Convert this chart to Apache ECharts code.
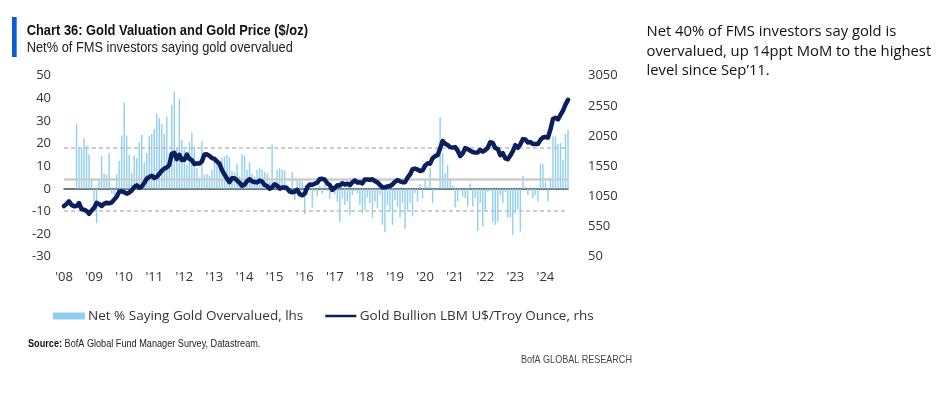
<!DOCTYPE html>
<html><head><meta charset="utf-8">
<script src="https://cdn.jsdelivr.net/npm/echarts@6/dist/echarts.min.js"></script>
<style>html,body{margin:0;padding:0;background:#fff}#c{width:940px;height:393px}</style>
</head><body><div id="c"></div>
<script>
// ---- DATA ----
const startYear = 2008, endYear = 2024, endMonth = 10;
const xTickLabels = ["'08","'09","'10","'11","'12","'13","'14","'15","'16","'17","'18","'19","'20","'21","'22","'23","'24"];
const refLines = { mean: 4.4, upper: 18.3, lower: -9.5 };

// Gold Bullion LBM U$/Troy Ounce, monthly (Jan 2008 - Oct 2024), rhs
const goldPrice = [
  889, 922, 968, 909, 888, 890, 939, 839, 829, 807, 760, 816,
  858, 943, 924, 890, 928, 946, 934, 949, 996, 1044, 1127, 1134,
  1118, 1095, 1113, 1148, 1205, 1233, 1193, 1215, 1271, 1343, 1370, 1391,
  1356, 1372, 1424, 1474, 1510, 1529, 1572, 1756, 1772, 1665, 1739, 1652,
  1656, 1742, 1674, 1650, 1585, 1596, 1594, 1630, 1745, 1747, 1721, 1685,
  1671, 1627, 1593, 1487, 1414, 1343, 1286, 1352, 1349, 1316, 1275, 1225,
  1244, 1300, 1336, 1299, 1287, 1279, 1311, 1296, 1239, 1222, 1176, 1201,
  1251, 1227, 1179, 1198, 1199, 1182, 1131, 1117, 1125, 1159, 1086, 1068,
  1097, 1200, 1246, 1242, 1260, 1276, 1337, 1341, 1326, 1266, 1238, 1157,
  1192, 1234, 1231, 1266, 1246, 1260, 1236, 1283, 1314, 1280, 1283, 1265,
  1331, 1331, 1325, 1335, 1303, 1282, 1238, 1202, 1199, 1215, 1221, 1250,
  1291, 1320, 1300, 1285, 1284, 1359, 1413, 1500, 1510, 1495, 1471, 1480,
  1560, 1597, 1592, 1683, 1716, 1732, 1846, 1968, 1921, 1900, 1866, 1858,
  1867, 1808, 1718, 1760, 1850, 1834, 1807, 1785, 1775, 1777, 1821, 1790,
  1817, 1856, 1948, 1937, 1849, 1837, 1733, 1765, 1681, 1665, 1726, 1798,
  1898, 1855, 1913, 1999, 1992, 1943, 1951, 1918, 1916, 1916, 1985, 2026,
  2034, 2024, 2160, 2331, 2351, 2326, 2399, 2470, 2571, 2650
];

// Net % saying gold overvalued, lhs (monthly, same months)
const netOvervalued = [
  null, null, null, null, null,
  28.8, 18.3, 17.5, 22.4, 19, 15.2, 4.3, -5.6, -15.2, 4.3, 14.6, 6.9, 6.2, 15.8, -2, -2.7, 6.5, 12.4,
  23.5, 38.2, 23.5, 15, 6.9, 14.6, 13.6, 20.6, 23.9, 11.8, 15.8, 23.5, 24.2, 26.4, 33.2, 31.3, 28.6,
  24.2, 32, 15.8, 37.2, 43, 18, 39.7, 21.7, 17.3, 10.6,
  20.6, 24.9, 18.7, 9.1, 5, 21, 6.2, 6.5, 5.9, 8.4, 12.1, 11.8, 9.1, 13.6, 14.3, 15, 13.9, 8, 7.4,
  11.2, 5.5, 15.3, 14.6, 8.4, 11.8, 6.5, 5.5, 8.3, 9.4, 8.7, 7.4, 6.9, 3.2, 19.5, 3, 8.4, 9.1, 8.4,
  8, 1.8, -1.2, 7.4, -4.9, 4.3, 4, 3.2, -11.2, -2.7, 1.8, -8.3, -1.2,
  -3.4, 1.5, -2.2, 2, -1, -4.5, 0.8, -2.5,
  -5.6, -14.7, -4.1, -7.1, -5.6, -11.5, -2.7, -0.9, -1.9, -7.1, -10.8, -9.3, -3.8, -6.3, -12.7,
  -5.6, -8.6, -2.7, -15.9, -19.2, -7.1, -10, -15.9, -4.9, -7.8, -12.7, -6.3, -17.7, -9.3, -6.3,
  -12.2, -1.9, -5.6, 2.1, -4.1, 4.7, 1, 9.1, -6.3, -0.9, -0.4, 31.6,
  15.8, 6.9, 10.6, 4.4, 1.5, -8.3, -5.6, -0.9, -3.4, -4.1, -7.8, 2.4, -7.8, -4.1, -18.6, -6.3,
  -16.7, -10, -1.5, -0.9, -14.5, -15.9, -14.5, -2.7, -6.3, -1.5, -12.7, -12.7, -20.4, -10.8, -9.3,
  -18.9, 5.8, 1, -2.7, -0.9, -4.1, -2.7, -5.6, 11.1, 11.1, 3.2, -5.6, 5, 23.2, 23.2, 19.8, 20.2,
  12.8, 24.3, 26.1
];

const months = [];
for (let y = startYear; y <= endYear; y++) {
  for (let m = 1; m <= 12; m++) {
    if (y === endYear && m > endMonth) break;
    months.push(y + '-' + (m < 10 ? '0' + m : m));
  }
}

// ---- CHART ----
const NAVY = '#0B1F5E', LIGHT = '#8FCFF0';
const NUM_FONT = '"Open Sans", "Noto Sans", sans-serif';
const SANS = '"Liberation Sans", Arial, sans-serif';
const LINE_ICON = 'path://M0,0 h0.01 v0.01 h-0.01 Z M0,2.9 h40 v3.2 h-40 Z M0,9 h0.01 v0.01 h-0.01 Z';
const chart = echarts.init(document.getElementById('c'), null, { renderer: 'canvas' });
chart.setOption({
  animation: false,
  backgroundColor: '#fff',
  legend: {
    left: 53, top: 308, padding: 0, itemGap: 22, itemWidth: 32, itemHeight: 7,
    textStyle: { fontFamily: NUM_FONT, fontSize: 13.5, color: '#333', lineHeight: 16, padding: [0, 0, 0, -2] },
    data: [
      { name: 'Net % Saying Gold Overvalued, lhs', icon: 'rect', itemStyle: { color: LIGHT } },
      { name: 'Gold Bullion LBM U$/Troy Ounce, rhs', icon: LINE_ICON, itemStyle: { color: NAVY } }
    ]
  },
  grid: { left: 64, right: 372, top: 75.7, bottom: 136.3 },
  xAxis: [
    { type: 'category', data: months, boundaryGap: false,
      axisLine: { onZero: true, lineStyle: { color: '#4a4a4a', width: 1.5 } },
      axisTick: { show: false }, axisLabel: { show: false }, splitLine: { show: false } },
    { type: 'category', data: months, boundaryGap: false, position: 'bottom',
      axisLine: { show: false, onZero: false }, axisTick: { show: false }, splitLine: { show: false },
      axisLabel: { interval: (i) => i % 12 === 0, margin: 14,
        formatter: (v, i) => xTickLabels[Math.round(i / 12)] || '',
        fontFamily: NUM_FONT, fontSize: 13, color: '#333' } }
  ],
  yAxis: [
    { type: 'value', min: -30, max: 50, interval: 10, splitLine: { show: false },
      axisLine: { show: false }, axisTick: { show: false },
      axisLabel: { margin: 13, fontFamily: NUM_FONT, fontSize: 13, color: '#333' } },
    { type: 'value', min: 50, max: 3050, interval: 500, splitLine: { show: false },
      axisLine: { show: false }, axisTick: { show: false }, position: 'right',
      axisLabel: { margin: 20, fontFamily: NUM_FONT, fontSize: 13, color: '#333',
        formatter: (v) => String(v) } }
  ],
  series: [
    { name: 'Net % Saying Gold Overvalued, lhs', type: 'bar', xAxisIndex: 0, yAxisIndex: 0,
      data: netOvervalued, barWidth: 1.4, itemStyle: { color: LIGHT }, z: 2,
      markLine: { silent: true, symbol: 'none', label: { show: false }, z: 3,
        data: [
          { yAxis: refLines.mean, lineStyle: { color: '#cccccc', width: 2.5, type: 'solid' } },
          { yAxis: refLines.upper, lineStyle: { color: '#bdbdbd', width: 1.5, type: [4, 3] } },
          { yAxis: refLines.lower, lineStyle: { color: '#bdbdbd', width: 1.5, type: [4, 3] } }
        ] } },
    { name: 'Gold Bullion LBM U$/Troy Ounce, rhs', type: 'line', xAxisIndex: 0, yAxisIndex: 1,
      data: goldPrice, symbol: 'none', z: 5,
      lineStyle: { color: NAVY, width: 4.5, join: 'round', cap: 'round' }, itemStyle: { color: NAVY } }
  ],
  graphic: [
    { type: 'rect', shape: { x: 12, y: 17, width: 4.7, height: 40 }, style: { fill: '#0A5CD6' } },
    { type: 'text', x: 26.7, y: 30.7, scaleX: 0.92,
      style: { text: 'Chart 36: Gold Valuation and Gold Price ($/oz)', font: 'bold 14px ' + SANS,
        fill: '#111', verticalAlign: 'middle', align: 'left' } },
    { type: 'text', x: 26.7, y: 47.7, scaleX: 0.917,
      style: { text: 'Net% of FMS investors saying gold overvalued', font: '14px ' + SANS,
        fill: '#222', verticalAlign: 'middle', align: 'left' } },
    { type: 'text', x: 646.5, y: 21.8,
      style: { text: 'Net 40% of FMS investors say gold is\novervalued, up 14ppt MoM to the highest\nlevel since Sep\u201911.',
        font: '14.8px "Open Sans", sans-serif', lineHeight: 19.7, fill: '#111', verticalAlign: 'top', align: 'left' } },
    { type: 'text', x: 28, y: 344, scaleX: 0.87,
      style: { text: '{b|Source:} BofA Global Fund Manager Survey, Datastream.',
        font: '10.5px ' + SANS, fill: '#222', verticalAlign: 'middle', align: 'left',
        rich: { b: { fontWeight: 'bold', fontFamily: SANS, fontSize: 10.5, fill: '#111' } } } },
    { type: 'text', x: 521, y: 360, scaleX: 0.86,
      style: { text: 'BofA GLOBAL RESEARCH', font: '10.5px ' + SANS, fill: '#444', verticalAlign: 'middle', align: 'left' } }
  ]
});
</script></body></html>
